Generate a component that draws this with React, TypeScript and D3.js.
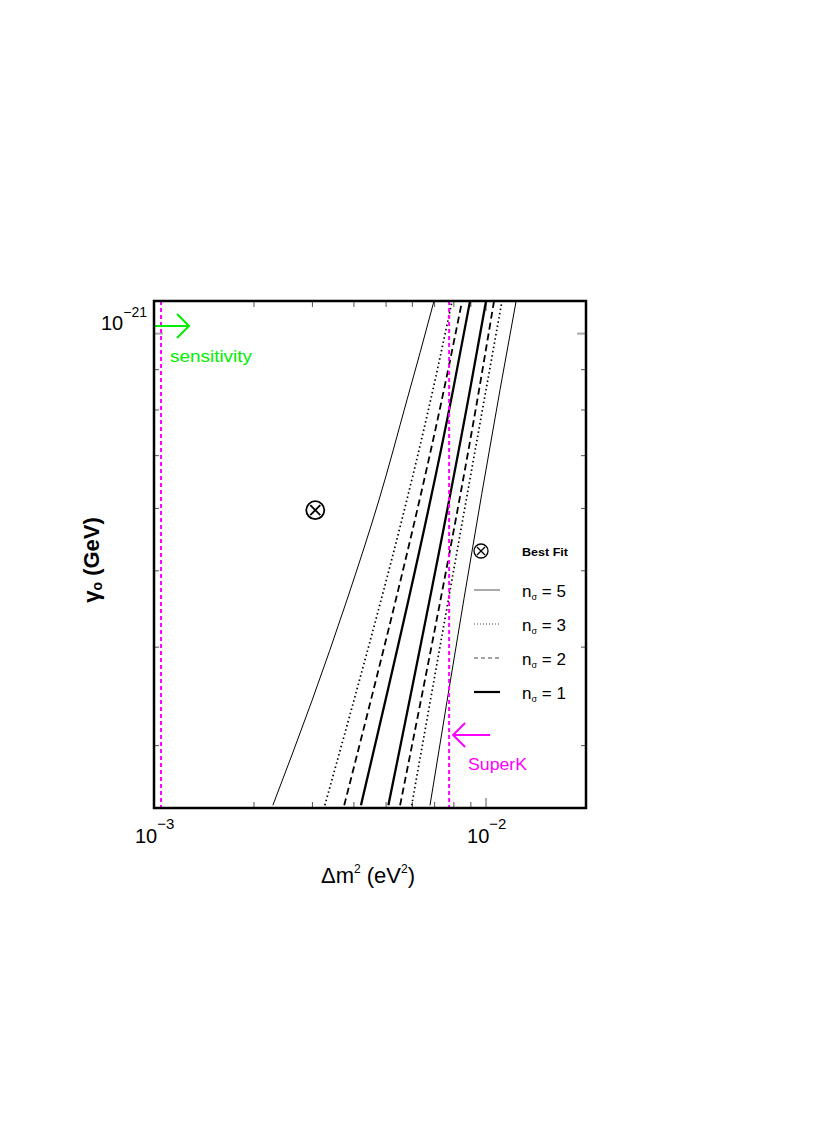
import * as d3 from 'd3';

// axis ranges (eV^2, GeV)
const xDomain = [1e-3, 2e-2];
const yDomain = [2.5e-22, 1.1e-21];

const xMajorTicks = [1e-3, 1e-2];
const xMinorTicks = [2e-3, 3e-3, 4e-3, 5e-3, 6e-3, 7e-3, 8e-3, 9e-3];
const yMajorTicks = [1e-21];
const yMinorTicks = [3e-22, 4e-22, 5e-22, 6e-22, 7e-22, 8e-22, 9e-22];

// contour curves: gamma values and delta m^2 values along each
const gammaCurved = [2.52e-22, 3.42e-22, 4.59e-22, 6.15e-22, 8.24e-22, 9.46e-22, 1.1e-21];
const sigma5Left = [2.28e-3, 2.99e-3, 3.81e-3, 4.76e-3, 5.78e-3, 6.33e-3, 6.97e-3];

const gammaStraight = [2.52e-22, 8.49e-22, 1.1e-21];
const sigma3Left = [3.27e-3, 6.92e-3, 7.9e-3];
const sigma2Left = [3.74e-3, 7.47e-3, 8.47e-3];
const sigma1Left = [4.2e-3, 7.96e-3, 8.95e-3];
const sigma1Right = [5.08e-3, 8.95e-3, 1.0e-2];
const sigma2Right = [5.51e-3, 9.53e-3, 1.057e-2];
const sigma3Right = [5.97e-3, 1.0e-2, 1.117e-2];
const sigma5Right = [6.78e-3, 1.102e-2, 1.232e-2];

const bestFit = { dm2: 3.06e-3, gamma: 5.97e-22 };
const sensitivityDm2 = 1.05e-3;
const superKDm2 = 7.74e-3;

const legendLabels = ['5', '3', '2', '1'];

const left = 154;
const right = 586;
const top = 301;
const bottom = 808;

const styles: Record<string, { w: number; dash?: string }> = {
  '5': { w: 1 },
  '3': { w: 1.7, dash: '1.5,2.8' },
  '2': { w: 1.8, dash: '7,4' },
  '1': { w: 2.3 },
};

export default function App() {
  const x = d3.scaleLog().domain(xDomain).range([left, right]);
  const y = d3.scaleLog().domain(yDomain).range([bottom, top]);

  const line = d3
    .line<[number, number]>()
    .x(d => x(d[0]))
    .y(d => y(d[1]))
    .curve(d3.curveMonotoneY);

  const curves: { xs: number[]; ys: number[]; s: string }[] = [
    { xs: sigma5Left, ys: gammaCurved, s: '5' },
    { xs: sigma3Left, ys: gammaStraight, s: '3' },
    { xs: sigma2Left, ys: gammaStraight, s: '2' },
    { xs: sigma1Left, ys: gammaStraight, s: '1' },
    { xs: sigma1Right, ys: gammaStraight, s: '1' },
    { xs: sigma2Right, ys: gammaStraight, s: '2' },
    { xs: sigma3Right, ys: gammaStraight, s: '3' },
    { xs: sigma5Right, ys: gammaStraight, s: '5' },
  ];

  const font = "'Liberation Sans', Arial, sans-serif";
  const xs = x(sensitivityDm2);
  const xk = x(superKDm2);
  const bx = x(bestFit.dm2);
  const by = y(bestFit.gamma);

  return (
    <svg width={817} height={1133} style={{ position: 'absolute', left: 0, top: 0 }} fontFamily={font}>
      <rect width={817} height={1133} fill="#fff" />
      <defs>
        <clipPath id="plot">
          <rect x={left} y={top} width={right - left} height={bottom - top} />
        </clipPath>
      </defs>

      {/* ticks, all four sides, inward */}
      {xMinorTicks.map(t => (
        <g key={'xm' + t} stroke="#555" strokeWidth={1}>
          <line x1={x(t)} x2={x(t)} y1={bottom} y2={bottom - 6} />
          <line x1={x(t)} x2={x(t)} y1={top} y2={top + 6} />
        </g>
      ))}
      {xMajorTicks.map(t => (
        <g key={'xM' + t} stroke="#aaa" strokeWidth={2}>
          <line x1={x(t)} x2={x(t)} y1={bottom} y2={bottom - 10} />
          <line x1={x(t)} x2={x(t)} y1={top} y2={top + 10} />
        </g>
      ))}
      {yMinorTicks.map(t => (
        <g key={'ym' + t} stroke="#555" strokeWidth={1}>
          <line x1={left} x2={left + 5} y1={y(t)} y2={y(t)} />
          <line x1={right} x2={right - 5} y1={y(t)} y2={y(t)} />
        </g>
      ))}
      {yMajorTicks.map(t => (
        <g key={'yM' + t} stroke="#aaa" strokeWidth={2}>
          <line x1={left} x2={left + 9} y1={y(t)} y2={y(t)} />
          <line x1={right} x2={right - 9} y1={y(t)} y2={y(t)} />
        </g>
      ))}

      {/* contours */}
      <g clipPath="url(#plot)" fill="none" stroke="#000">
        {curves.map((c, i) => (
          <path
            key={i}
            d={line(c.xs.map((v, j) => [v, c.ys[j]] as [number, number])) || ''}
            strokeWidth={styles[c.s].w}
            strokeDasharray={styles[c.s].dash}
          />
        ))}
      </g>

      {/* experimental limits */}
      <g stroke="#ff00ff" strokeWidth={2} strokeDasharray="4,3">
        <line x1={xs} x2={xs} y1={top} y2={bottom} />
        <line x1={xk} x2={xk} y1={top} y2={bottom} />
      </g>

      {/* sensitivity arrow */}
      <g stroke="#00ee00" strokeWidth={2} fill="none">
        <line x1={left} x2={xs + 28} y1={326} y2={326} />
        <path d={`M${xs + 16},${314} L${xs + 28},${326} L${xs + 16},${338}`} />
      </g>
      <text x={170} y={362} fill="#00ee00" fontSize={17} textLength={82} lengthAdjust="spacingAndGlyphs">
        sensitivity
      </text>

      {/* SuperK arrow */}
      <g stroke="#ff00ff" strokeWidth={2} fill="none">
        <line x1={xk + 4} x2={xk + 41} y1={735} y2={735} />
        <path d={`M${xk + 16},${723} L${xk + 4},${735} L${xk + 16},${747}`} />
      </g>
      <text x={468} y={770} fill="#ff00ff" fontSize={17} textLength={59} lengthAdjust="spacingAndGlyphs">
        SuperK
      </text>

      {/* best fit */}
      <g stroke="#000" strokeWidth={1.8} fill="none">
        <circle cx={bx} cy={by} r={9} />
        <line x1={bx - 5} x2={bx + 5} y1={by - 5} y2={by + 5} />
        <line x1={bx - 5} x2={bx + 5} y1={by + 5} y2={by - 5} />
      </g>

      {/* legend */}
      <g stroke="#000" strokeWidth={1.3} fill="none">
        <circle cx={481} cy={551} r={7} />
        <line x1={477} x2={485} y1={547} y2={555} />
        <line x1={477} x2={485} y1={555} y2={547} />
      </g>
      <text x={522} y={556} fontSize={11} fontWeight="bold" textLength={46} lengthAdjust="spacingAndGlyphs">
        Best Fit
      </text>
      {legendLabels.map((n, i) => {
        const ly = 590 + i * 34;
        const st =
          n === '5'
            ? { stroke: '#aaa', w: 2, dash: undefined }
            : n === '3'
            ? { stroke: '#444', w: 1, dash: '1,2' }
            : n === '2'
            ? { stroke: '#444', w: 1, dash: '4,3' }
            : { stroke: '#000', w: 2.2, dash: undefined };
        return (
          <g key={n}>
            <line x1={474} x2={500} y1={ly} y2={ly} stroke={st.stroke} strokeWidth={st.w} strokeDasharray={st.dash} />
            <text x={522} y={ly + 7} fontSize={17}>
              n<tspan fontSize={9} dy={3}>σ</tspan>
              <tspan dy={-3}> = {n}</tspan>
            </text>
          </g>
        );
      })}

      {/* frame */}
      <rect x={left} y={top} width={right - left} height={bottom - top} fill="none" stroke="#000" strokeWidth={2.5} />

      {/* tick labels */}
      {xMajorTicks.map(t => (
        <text key={'xl' + t} x={x(t) - 19} y={843} fontSize={20}>
          10<tspan fontSize={15} dy={-14}>−{Math.round(-Math.log10(t))}</tspan>
        </text>
      ))}
      {yMajorTicks.map(t => (
        <text key={'yl' + t} x={101} y={330} fontSize={20}>
          10<tspan fontSize={14} dy={-13}>−{Math.round(-Math.log10(t))}</tspan>
        </text>
      ))}

      {/* axis titles */}
      <text x={368} y={883} fontSize={22} textAnchor="middle">
        Δm<tspan fontSize={12} dy={-10}>2</tspan>
        <tspan dy={10}> (eV</tspan>
        <tspan fontSize={12} dy={-10}>2</tspan>
        <tspan dy={10}>)</tspan>
      </text>
      <text transform="translate(99,560) rotate(-90)" fontSize={22} textAnchor="middle" fontWeight="bold">
        γ<tspan fontSize={14} dy={3}>o</tspan>
        <tspan dy={-3}> (GeV)</tspan>
      </text>
    </svg>
  );
}
